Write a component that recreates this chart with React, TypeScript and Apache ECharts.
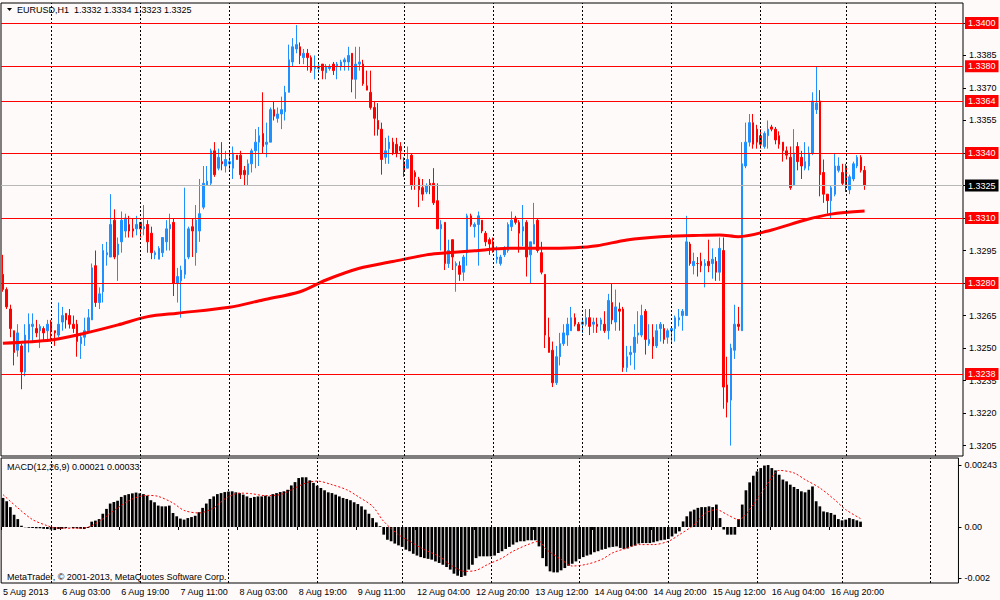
import React, { useEffect, useRef } from "react";
import * as echarts from "echarts";

// ---------- DATA ----------
const opens = [
  1.3284,1.3277,1.3268,1.3258,1.3249,1.3251,1.3239,1.3254,1.3260,1.3259,
  1.3258,1.3259,1.3258,1.3262,1.3258,1.3256,1.3262,1.3266,1.3265,1.3261,
  1.3261,1.3252,1.3255,1.3258,1.3263,1.3288,1.3271,1.3276,1.3293,1.3292,
  1.3309,1.3293,1.3299,1.3304,1.3307,1.3305,1.3305,1.3308,1.3305,1.3307,
  1.3303,1.3293,1.3291,1.3294,1.3299,1.3305,1.3308,1.3280,1.3281,1.3284,
  1.3292,1.3306,1.3294,1.3304,1.3315,1.3325,1.3326,1.3341,1.3333,1.3336,
  1.3334,1.3335,1.3333,1.3339,1.3339,1.3332,1.3330,1.3335,1.3341,1.3345,
  1.3349,1.3344,1.3345,1.3360,1.3356,1.3358,1.3359,1.3368,1.3382,1.3388,
  1.3389,1.3384,1.3386,1.3384,1.3379,1.3379,1.3381,1.3377,1.3379,1.3381,
  1.3380,1.3380,1.3382,1.3382,1.3386,1.3374,1.3381,1.3381,1.3371,1.3368,
  1.3361,1.3355,1.3351,1.3338,1.3342,1.3345,1.3344,1.3343,1.3336,1.3333,
  1.3339,1.3331,1.3328,1.3324,1.3322,1.3326,1.3326,1.3318,1.3305,1.3308,
  1.3289,1.3300,1.3288,1.3288,1.3285,1.3294,1.3311,1.3306,1.3307,1.3309,
  1.3303,1.3300,1.3299,1.3291,1.3289,1.3293,1.3295,1.3306,1.3310,1.3308,
  1.3304,1.3308,1.3293,1.3298,1.3309,1.3294,1.3284,1.3255,1.3249,1.3234,
  1.3246,1.3252,1.3256,1.3258,1.3264,1.3261,1.3261,1.3261,1.3264,1.3261,
  1.3261,1.3261,1.3261,1.3258,1.3271,1.3262,1.3268,1.3268,1.3241,1.3247,
  1.3248,1.3256,1.3256,1.3267,1.3252,1.3255,1.3251,1.3259,1.3259,1.3255,
  1.3258,1.3259,1.3263,1.3265,1.3265,1.3298,1.3288,1.3289,1.3290,1.3288,
  1.3290,1.3289,1.3290,1.3285,1.3295,1.3233,1.3226,1.3249,1.3261,1.3258,
  1.3334,1.3345,1.3354,1.3351,1.3348,1.3343,1.3348,1.3352,1.3351,1.3348,
  1.3345,1.3341,1.3338,1.3325,1.3343,1.3338,1.3333,1.3334,1.3340,1.3360,
  1.3364,1.3331,1.3321,1.3318,1.3321,1.3332,1.3331,1.3334,1.3323,1.3328,
  1.3334,1.3338,1.3332,
];

const closes = [
  1.3277,1.3269,1.3259,1.3248,1.3257,1.3239,1.3256,1.3261,1.3261,1.3257,
  1.3260,1.3257,1.3261,1.3258,1.3257,1.3261,1.3265,1.3263,1.3261,1.3259,
  1.3253,1.3255,1.3258,1.3264,1.3287,1.3271,1.3275,1.3295,1.3294,1.3307,
  1.3292,1.3298,1.3309,1.3310,1.3304,1.3304,1.3307,1.3305,1.3306,1.3299,
  1.3294,1.3294,1.3296,1.3301,1.3305,1.3307,1.3280,1.3283,1.3286,1.3291,
  1.3305,1.3304,1.3309,1.3312,1.3326,1.3327,1.3341,1.3330,1.3338,1.3335,
  1.3337,1.3336,1.3340,1.3337,1.3330,1.3330,1.3335,1.3341,1.3345,1.3348,
  1.3343,1.3345,1.3360,1.3357,1.3358,1.3360,1.3368,1.3383,1.3389,1.3390,
  1.3385,1.3386,1.3384,1.3378,1.3380,1.3380,1.3378,1.3380,1.3380,1.3378,
  1.3381,1.3382,1.3383,1.3385,1.3374,1.3381,1.3382,1.3372,1.3369,1.3361,
  1.3356,1.3351,1.3337,1.3341,1.3345,1.3340,1.3340,1.3341,1.3332,1.3337,
  1.3325,1.3329,1.3323,1.3321,1.3325,1.3325,1.3317,1.3305,1.3307,1.3289,
  1.3295,1.3292,1.3289,1.3284,1.3292,1.3311,1.3307,1.3307,1.3311,1.3304,
  1.3299,1.3298,1.3295,1.3292,1.3292,1.3296,1.3307,1.3309,1.3308,1.3303,
  1.3306,1.3292,1.3299,1.3307,1.3295,1.3285,1.3256,1.3248,1.3234,1.3246,
  1.3252,1.3257,1.3261,1.3264,1.3261,1.3258,1.3262,1.3264,1.3260,1.3262,
  1.3260,1.3263,1.3258,1.3272,1.3263,1.3269,1.3267,1.3241,1.3246,1.3248,
  1.3255,1.3257,1.3265,1.3254,1.3254,1.3251,1.3258,1.3261,1.3254,1.3258,
  1.3259,1.3264,1.3264,1.3267,1.3299,1.3289,1.3290,1.3289,1.3288,1.3289,
  1.3288,1.3291,1.3285,1.3296,1.3232,1.3225,1.3250,1.3261,1.3260,1.3335,
  1.3345,1.3354,1.3344,1.3345,1.3344,1.3349,1.3351,1.3351,1.3346,1.3344,
  1.3341,1.3339,1.3324,1.3340,1.3336,1.3334,1.3336,1.3340,1.3364,1.3363,
  1.3330,1.3321,1.3318,1.3324,1.3334,1.3334,1.3326,1.3324,1.3329,1.3335,
  1.3338,1.3332,1.3325,
];

const lows = [
  1.3276,1.3268,1.3255,1.3242,1.3246,1.3231,1.3237,1.3248,1.3253,1.3255,
  1.3250,1.3253,1.3254,1.3253,1.3251,1.3255,1.3258,1.3259,1.3259,1.3257,
  1.3246,1.3245,1.3251,1.3257,1.3263,1.3269,1.3268,1.3271,1.3288,1.3292,
  1.3291,1.3281,1.3294,1.3301,1.3301,1.3301,1.3302,1.3301,1.3302,1.3294,
  1.3291,1.3291,1.3291,1.3292,1.3295,1.3295,1.3274,1.3271,1.3264,1.3282,
  1.3291,1.3292,1.3288,1.3299,1.3314,1.3325,1.3325,1.3329,1.3332,1.3332,
  1.3331,1.3332,1.3328,1.3337,1.3328,1.3325,1.3325,1.3331,1.3333,1.3334,
  1.3340,1.3338,1.3345,1.3355,1.3354,1.3351,1.3355,1.3368,1.3380,1.3386,
  1.3381,1.3381,1.3378,1.3377,1.3374,1.3377,1.3374,1.3374,1.3378,1.3376,
  1.3374,1.3378,1.3378,1.3378,1.3368,1.3365,1.3378,1.3371,1.3369,1.3360,
  1.3348,1.3348,1.3330,1.3335,1.3335,1.3339,1.3338,1.3337,1.3329,1.3333,
  1.3323,1.3323,1.3315,1.3318,1.3321,1.3321,1.3316,1.3305,1.3295,1.3286,
  1.3287,1.3286,1.3276,1.3281,1.3281,1.3288,1.3306,1.3301,1.3288,1.3303,
  1.3297,1.3293,1.3294,1.3289,1.3288,1.3292,1.3294,1.3304,1.3307,1.3294,
  1.3297,1.3283,1.3280,1.3298,1.3294,1.3284,1.3250,1.3248,1.3232,1.3233,
  1.3242,1.3251,1.3251,1.3258,1.3260,1.3258,1.3257,1.3260,1.3256,1.3257,
  1.3257,1.3258,1.3257,1.3254,1.3261,1.3258,1.3258,1.3239,1.3239,1.3242,
  1.3240,1.3252,1.3255,1.3247,1.3251,1.3245,1.3250,1.3253,1.3252,1.3252,
  1.3252,1.3253,1.3260,1.3258,1.3265,1.3288,1.3284,1.3283,1.3285,1.3278,
  1.3285,1.3282,1.3281,1.3281,1.3222,1.3218,1.3205,1.3245,1.3258,1.3258,
  1.3333,1.3343,1.3342,1.3342,1.3342,1.3342,1.3342,1.3350,1.3344,1.3342,
  1.3336,1.3337,1.3323,1.3325,1.3332,1.3328,1.3332,1.3332,1.3339,1.3358,
  1.3320,1.3317,1.3312,1.3310,1.3320,1.3331,1.3325,1.3322,1.3321,1.3327,
  1.3333,1.3331,1.3323,
];

const highs = [
  1.3293,1.3278,1.3270,1.3258,1.3261,1.3252,1.3261,1.3266,1.3266,1.3263,
  1.3261,1.3260,1.3263,1.3263,1.3258,1.3271,1.3269,1.3266,1.3268,1.3265,
  1.3263,1.3257,1.3264,1.3268,1.3289,1.3295,1.3278,1.3298,1.3299,1.3321,
  1.3314,1.3301,1.3313,1.3312,1.3311,1.3310,1.3311,1.3308,1.3316,1.3309,
  1.3306,1.3295,1.3297,1.3301,1.3309,1.3312,1.3310,1.3287,1.3288,1.3324,
  1.3306,1.3310,1.3316,1.3328,1.3334,1.3334,1.3342,1.3345,1.3342,1.3345,
  1.3341,1.3341,1.3343,1.3339,1.3341,1.3334,1.3337,1.3342,1.3351,1.3352,
  1.3368,1.3354,1.3361,1.3364,1.3361,1.3366,1.3371,1.3390,1.3393,1.3399,
  1.3391,1.3388,1.3388,1.3385,1.3385,1.3382,1.3381,1.3381,1.3381,1.3382,
  1.3382,1.3383,1.3384,1.3389,1.3386,1.3389,1.3389,1.3383,1.3378,1.3378,
  1.3364,1.3363,1.3354,1.3347,1.3348,1.3347,1.3347,1.3345,1.3338,1.3343,
  1.3340,1.3332,1.3329,1.3328,1.3326,1.3328,1.3333,1.3326,1.3309,1.3308,
  1.3300,1.3300,1.3290,1.3290,1.3293,1.3312,1.3312,1.3308,1.3313,1.3309,
  1.3304,1.3301,1.3301,1.3297,1.3293,1.3297,1.3308,1.3313,1.3311,1.3309,
  1.3316,1.3309,1.3299,1.3317,1.3310,1.3299,1.3284,1.3264,1.3253,1.3251,
  1.3257,1.3261,1.3264,1.3269,1.3266,1.3262,1.3264,1.3268,1.3268,1.3264,
  1.3264,1.3264,1.3267,1.3275,1.3280,1.3277,1.3271,1.3269,1.3251,1.3251,
  1.3261,1.3267,1.3270,1.3268,1.3261,1.3261,1.3261,1.3262,1.3261,1.3259,
  1.3259,1.3265,1.3268,1.3268,1.3311,1.3299,1.3294,1.3292,1.3294,1.3291,
  1.3300,1.3296,1.3292,1.3301,1.3301,1.3246,1.3252,1.3270,1.3269,1.3345,
  1.3354,1.3358,1.3358,1.3353,1.3351,1.3350,1.3355,1.3353,1.3352,1.3350,
  1.3345,1.3343,1.3343,1.3351,1.3345,1.3341,1.3345,1.3343,1.3368,1.3380,
  1.3369,1.3337,1.3321,1.3325,1.3340,1.3338,1.3335,1.3335,1.3330,1.3336,
  1.3339,1.3339,1.3334,
];

// moving average read at selected bars (bar index, price)
const maBars = [0, 13, 22, 31, 39, 47, 61, 70, 80, 87, 96, 105, 114, 118, 127, 136, 145, 154, 160, 168, 177, 186, 193, 198, 207, 216, 223, 232];
const maValues = [
  1.32522, 1.32537, 1.32568, 1.32607, 1.32645, 1.32661, 1.32688, 1.32722, 1.3276, 1.32814,
  1.32868, 1.32899, 1.3293, 1.32937, 1.32949, 1.3296, 1.3296, 1.32963, 1.32972, 1.32999,
  1.33014, 1.33019, 1.33022, 1.33014, 1.33045, 1.33091, 1.33118, 1.33132,
];

const macdHist = [
  0.00114,0.00101,0.00078,0.00048,0.00031,0.00005,-0.00001,-0.00003,-0.00004,-0.00005,
  -0.00005,-0.00007,-0.00008,-0.0001,-0.00012,-0.00008,-0.00007,-0.00004,-0.00001,-0.00004,
  -0.00005,-0.00007,-0.00008,-0.00004,0.00021,0.00025,0.00031,0.00052,0.00071,0.00092,
  0.00098,0.00103,0.00118,0.00125,0.00129,0.00132,0.00135,0.00132,0.00129,0.00123,
  0.00105,0.00097,0.00084,0.00081,0.00081,0.00084,0.00055,0.00042,0.00033,0.00029,
  0.00035,0.00039,0.00044,0.00058,0.00075,0.00092,0.0011,0.0012,0.00129,0.00133,
  0.00137,0.00139,0.0014,0.00136,0.00133,0.00127,0.0012,0.00114,0.00118,0.0012,
  0.0012,0.00123,0.0012,0.00129,0.00133,0.00137,0.0014,0.00146,0.00163,0.00176,
  0.00192,0.00195,0.00195,0.00183,0.00173,0.00162,0.00153,0.00144,0.00136,0.00133,
  0.00127,0.0012,0.00114,0.0011,0.00105,0.00097,0.0009,0.00081,0.00068,0.00052,
  0.00035,0.00018,0.00003,-0.0003,-0.0005,-0.00056,-0.00065,-0.00072,-0.00078,-0.00089,
  -0.00095,-0.00105,-0.00112,-0.00118,-0.00122,-0.00125,-0.00128,-0.00135,-0.00141,-0.00148,
  -0.00157,-0.00167,-0.00183,-0.00191,-0.00196,-0.00191,-0.00167,-0.00148,
  -0.00122,-0.00115,-0.00115,-0.00115,-0.00115,-0.00112,-0.00102,-0.00095,-0.00086,-0.00078,
  -0.00069,-0.0006,-0.00056,-0.00056,-0.00052,-0.00052,-0.00052,-0.00076,-0.00122,-0.00154,
  -0.00174,-0.00178,-0.00178,-0.0017,-0.00161,-0.00152,-0.00144,-0.00135,-0.00125,-0.00118,
  -0.00112,-0.00108,-0.00099,-0.00095,-0.00089,-0.00086,-0.0008,-0.00078,-0.00076,-0.00082,
  -0.00086,-0.00084,-0.00076,-0.00073,-0.00065,-0.00063,-0.00063,-0.00063,-0.0006,-0.00056,
  -0.00052,-0.0005,-0.00047,-0.00037,-0.00026,-0.00017,0.00022,0.00042,0.00061,0.00068,
  0.00075,0.00078,0.00078,0.00081,0.00078,0.00088,0.00035,-0.0001,-0.0003,-0.0003,
  -0.0003,0.00031,0.00088,0.00144,0.00175,0.00201,0.00218,0.00231,0.00241,0.00243,
  0.00231,0.00222,0.00205,0.00186,0.00179,0.00166,0.00157,0.00149,0.0014,0.00136,
  0.00146,0.00159,0.00101,0.00081,0.00061,0.00058,0.00055,0.00048,0.00031,0.00026,
  0.00029,0.00035,0.00031,0.00026,0.00021,
];

// signal line read at selected bars
const signalBars = [
  0, 4, 8, 12, 14, 17, 21, 24, 28, 31, 35, 39, 42, 46, 49, 53, 57, 60, 64, 67,
  71, 75, 78, 82, 85, 89, 93, 96, 100, 103, 107, 110, 114, 118, 121, 125, 128, 131, 135, 138,
  142, 145, 147, 151, 154, 158, 162, 165, 169, 172, 176, 180, 183, 187, 190, 193, 196, 199, 203, 207,
  210, 214, 217, 221, 225, 228, 232,
];
const signalValues = [
  0.00127, 0.00075, 0.00029, 0.00005, -0.00003, -0.00005, -0.00005, 0.00005, 0.00042, 0.00075,
  0.0011, 0.00124, 0.0012, 0.00094, 0.00065, 0.00055, 0.00075, 0.0011, 0.00133, 0.00131,
  0.00123, 0.00127, 0.00146, 0.00173, 0.0018, 0.00166, 0.00146, 0.0012, 0.00081, 0.00022,
  -0.0003, -0.00056, -0.00089, -0.00115, -0.00148, -0.00174, -0.0017, -0.00148, -0.00122, -0.00095,
  -0.00069, -0.00056, -0.00088, -0.00127, -0.00153, -0.00146, -0.00127, -0.00101, -0.00082, -0.00069,
  -0.00069, -0.00056, -0.0003, 0.00009, 0.00054, 0.00068, 0.00048, 0.00029, 0.00088, 0.00173,
  0.00222, 0.00212, 0.00186, 0.00153, 0.00107, 0.00068, 0.00033,
];

const levelLines = [1.34, 1.338, 1.3364, 1.334, 1.331, 1.328, 1.3238];
const currentPrice = 1.3325;
const priceTicks = [1.3205, 1.322, 1.3235, 1.325, 1.3265, 1.328, 1.3295, 1.331, 1.3325, 1.334, 1.3355, 1.337, 1.3385, 1.34];
const macdTicks = [-0.002, 0, 0.00243];
const macdTickLabels = ["-0.002", "0.00", "0.00243"];
const timeLabels = [
  "5 Aug 2013", "6 Aug 03:00", "6 Aug 19:00", "7 Aug 11:00", "8 Aug 03:00", "8 Aug 19:00",
  "9 Aug 11:00", "12 Aug 04:00", "12 Aug 20:00", "13 Aug 12:00", "14 Aug 04:00", "14 Aug 20:00",
  "15 Aug 12:00", "16 Aug 04:00", "16 Aug 20:00",
];
const LABEL_STEP = 16;
const dayBreakBars = [13, 37, 61, 85, 108, 132, 156, 180, 204, 227, 251];
const CATEGORY_COUNT = 259;

// ---------- STYLE ----------
const BG = "#fffafa";
const BULL = "#1e90ff";
const BEAR = "#ff0000";
const FONT = "Liberation Sans";
const FS = 9;

export default function App() {
  const ref = useRef<HTMLDivElement>(null);

  useEffect(() => {
    if (!ref.current) return;
    const chart = echarts.init(ref.current, null, { renderer: "svg" });

    const cats = Array.from({ length: CATEGORY_COUNT }, (_, i) => String(i));
    const candleData = opens.map((o, i) => [o, closes[i], lows[i], highs[i]]);
    const maData = maBars.map((b, i) => [b, maValues[i]]);
    const signalData = signalBars.map((b, i) => [b, signalValues[i]]);
    const isLabelIdx = (i: number) => i % LABEL_STEP === 0 && i / LABEL_STEP < timeLabels.length;

    const vLines = dayBreakBars.map((b) => ({
      xAxis: String(b),
      lineStyle: { color: "#000", width: 1, type: [2, 2] },
      label: { show: false },
    }));

    const last = opens.length - 1;
    const header = `EURUSD,H1  ${opens[last].toFixed(4)} ${highs[last].toFixed(4)} ${lows[last].toFixed(4)} ${closes[last].toFixed(4)}`;
    const macdHeader = `MACD(12,26,9) ${macdHist[macdHist.length - 1].toFixed(5)} ${signalValues[signalValues.length - 1].toFixed(5)}`;

    const option: any = {
      animation: false,
      backgroundColor: BG,
      textStyle: { fontFamily: FONT },
      grid: [
        { left: 1, top: 3, width: 962, height: 453, show: true, borderColor: "#000", borderWidth: 1, backgroundColor: BG },
        { left: 1, top: 458, width: 962, height: 125, show: true, borderColor: "#000", borderWidth: 1, backgroundColor: BG },
      ],
      xAxis: [
        {
          type: "category", gridIndex: 0, data: cats, boundaryGap: true,
          axisLine: { show: false }, axisTick: { show: false }, axisLabel: { show: false }, splitLine: { show: false },
        },
        {
          type: "category", gridIndex: 1, data: cats, boundaryGap: true,
          axisLine: { show: false },
          axisTick: { show: true, interval: (i: number) => isLabelIdx(i), length: 3, lineStyle: { color: "#000" } },
          axisLabel: {
            show: true, interval: (i: number) => isLabelIdx(i), hideOverlap: false,
            formatter: (v: string) => timeLabels[Number(v) / LABEL_STEP] ?? "",
            align: "left", color: "#000", fontSize: FS, fontFamily: FONT, margin: 4,
          },
          splitLine: { show: false },
        },
      ],
      yAxis: [
        {
          type: "value", gridIndex: 0, position: "right", min: 1.32002, max: 1.34092,
          axisLine: { show: false },
          splitLine: { show: false },
          axisTick: { show: true, length: 3, lineStyle: { color: "#000" }, customValues: priceTicks },
          axisLabel: {
            show: true, customValues: priceTicks, formatter: (v: number) => v.toFixed(4),
            color: "#000", fontSize: FS, fontFamily: FONT, margin: 6,
          },
        },
        {
          type: "value", gridIndex: 1, position: "right", min: -0.002196, max: 0.002706,
          axisLine: { show: false },
          splitLine: { show: false },
          axisTick: { show: true, length: 3, lineStyle: { color: "#000" }, customValues: macdTicks },
          axisLabel: {
            show: true, customValues: macdTicks,
            formatter: (v: number) => {
              let best = 0;
              macdTicks.forEach((t, i) => { if (Math.abs(t - v) < Math.abs(macdTicks[best] - v)) best = i; });
              return macdTickLabels[best];
            },
            color: "#000", fontSize: FS, fontFamily: FONT, margin: 6,
          },
        },
      ],
      series: [
        {
          type: "candlestick", xAxisIndex: 0, yAxisIndex: 0, data: candleData, barWidth: 2,
          itemStyle: { color: BULL, color0: BEAR, borderColor: BULL, borderColor0: BEAR, borderWidth: 1 },
          markLine: {
            silent: true, symbol: ["none", "none"], animation: false, precision: 4,
            data: [
              ...vLines,
              ...levelLines.map((v) => ({
                yAxis: v, name: v.toFixed(4),
                lineStyle: { color: "#ff0000", width: 1, type: "solid" },
                label: {
                  show: true, position: "end", distance: 2, formatter: "{b}",
                  color: "#fff", backgroundColor: "#ff0000", padding: [2, 3, 1, 3],
                  fontSize: FS, fontFamily: FONT,
                },
              })),
              {
                yAxis: currentPrice, name: currentPrice.toFixed(4),
                lineStyle: { color: "#b8b8b8", width: 1, type: "solid" },
                label: {
                  show: true, position: "end", distance: 2, formatter: "{b}",
                  color: "#fff", backgroundColor: "#000", padding: [2, 3, 1, 3],
                  fontSize: FS, fontFamily: FONT,
                },
              },
            ],
          },
        },
        {
          type: "line", xAxisIndex: 0, yAxisIndex: 0, data: maData, symbol: "none", silent: true, smooth: 0.3,
          lineStyle: { color: "#ff0000", width: 3 },
        },
        {
          type: "bar", xAxisIndex: 1, yAxisIndex: 1, data: macdHist, barWidth: 2.7, silent: true,
          itemStyle: { color: "#000" },
          markLine: { silent: true, symbol: ["none", "none"], animation: false, data: vLines },
        },
        {
          type: "line", xAxisIndex: 1, yAxisIndex: 1, data: signalData, symbol: "none", silent: true, smooth: 0.3,
          lineStyle: { color: "#ff0000", width: 1, type: [2, 2] },
        },
      ],
      graphic: [
        { type: "polygon", z: 100, shape: { points: [[7, 8], [12, 8], [9.5, 11]] }, style: { fill: "#000" } },
        {
          type: "text", z: 100, x: 17, y: 10,
          style: { text: header, fill: "#000", font: `${FS}px "${FONT}"`, align: "left", verticalAlign: "middle" },
        },
        {
          type: "text", z: 100, x: 7, y: 466.5,
          style: { text: macdHeader, fill: "#000", font: `${FS}px "${FONT}"`, align: "left", verticalAlign: "middle" },
        },
        {
          type: "text", z: 100, x: 7, y: 577,
          style: { text: "MetaTrader, © 2001-2013, MetaQuotes Software Corp.", fill: "#000", font: `${FS}px "${FONT}"`, align: "left", verticalAlign: "middle" },
        },
      ],
    };

    chart.setOption(option);
    return () => chart.dispose();
  }, []);

  return (
    <div style={{ position: "fixed", left: 0, top: 0, width: 1000, height: 600, background: BG }}>
      <div ref={ref} style={{ width: 1000, height: 600 }} />
    </div>
  );
}
